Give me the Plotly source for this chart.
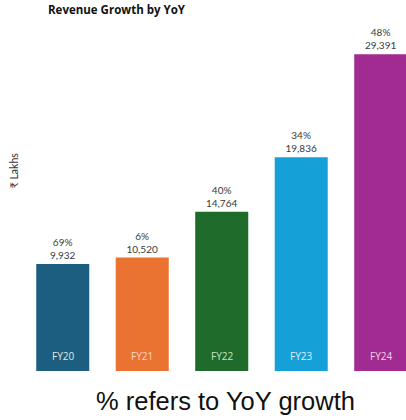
import plotly.graph_objects as go

categories = ["FY20", "FY21", "FY22", "FY23", "FY24"]
revenue = [9932, 10520, 14764, 19836, 29391]
growth = ["69%", "6%", "40%", "34%", "48%"]
colors = ["#1b5e7f", "#ea7332", "#1e6b2b", "#15a0d8", "#a22b92"]
label_colors = ["#dfe9f0", "#fbd9c0", "#c9e6b8", "#dff2fb", "#f3d3ec"]

texts = [f"{g}<br>{v:,}" for g, v in zip(growth, revenue)]

fig = go.Figure()
fig.add_trace(go.Bar(
    x=categories, y=revenue, marker=dict(color=colors, line=dict(width=0)),
    text=texts, textposition="outside", cliponaxis=False,
    textfont=dict(family="Lato", size=10, color="#3a3a3a"),
    width=0.667, hoverinfo="skip",
))

for c, lc in zip(categories, label_colors):
    fig.add_annotation(x=c, y=0, text=c, showarrow=False, yanchor="bottom",
                       yshift=6, font=dict(family="Open Sans", size=10, color=lc))

fig.add_annotation(xref="paper", yref="paper", x=-0.025, y=0.573, text="₹ Lakhs",
                   textangle=-90, showarrow=False, xanchor="center", yanchor="middle",
                   font=dict(family="Lato", size=10.5, color="#333333"))
fig.add_annotation(xref="paper", yref="paper", x=0.528, y=-0.0855, text="% refers to YoY growth",
                   showarrow=False, xanchor="center", yanchor="middle",
                   font=dict(family="Liberation Sans", size=25.5, color="#111111"))

fig.update_layout(
    width=406, height=420,
    margin=dict(l=23, r=0, t=20, b=49),
    paper_bgcolor="white", plot_bgcolor="white",
    showlegend=False,
    title=dict(text="<b>Revenue Growth by YoY</b>", x=48/406, xanchor="left", y=0.976, yanchor="middle",
               font=dict(family="Open Sans", size=11.5, color="#111111")),
    xaxis=dict(range=[-0.5, 4.318], showticklabels=False, showgrid=False, zeroline=False,
               showline=False, ticks=""),
    yaxis=dict(range=[0, 32560], visible=False, showgrid=False, zeroline=False),
)

fig.write_html("out.html", config={"displayModeBar": False},
               post_script="document.body.style.margin='0';")
